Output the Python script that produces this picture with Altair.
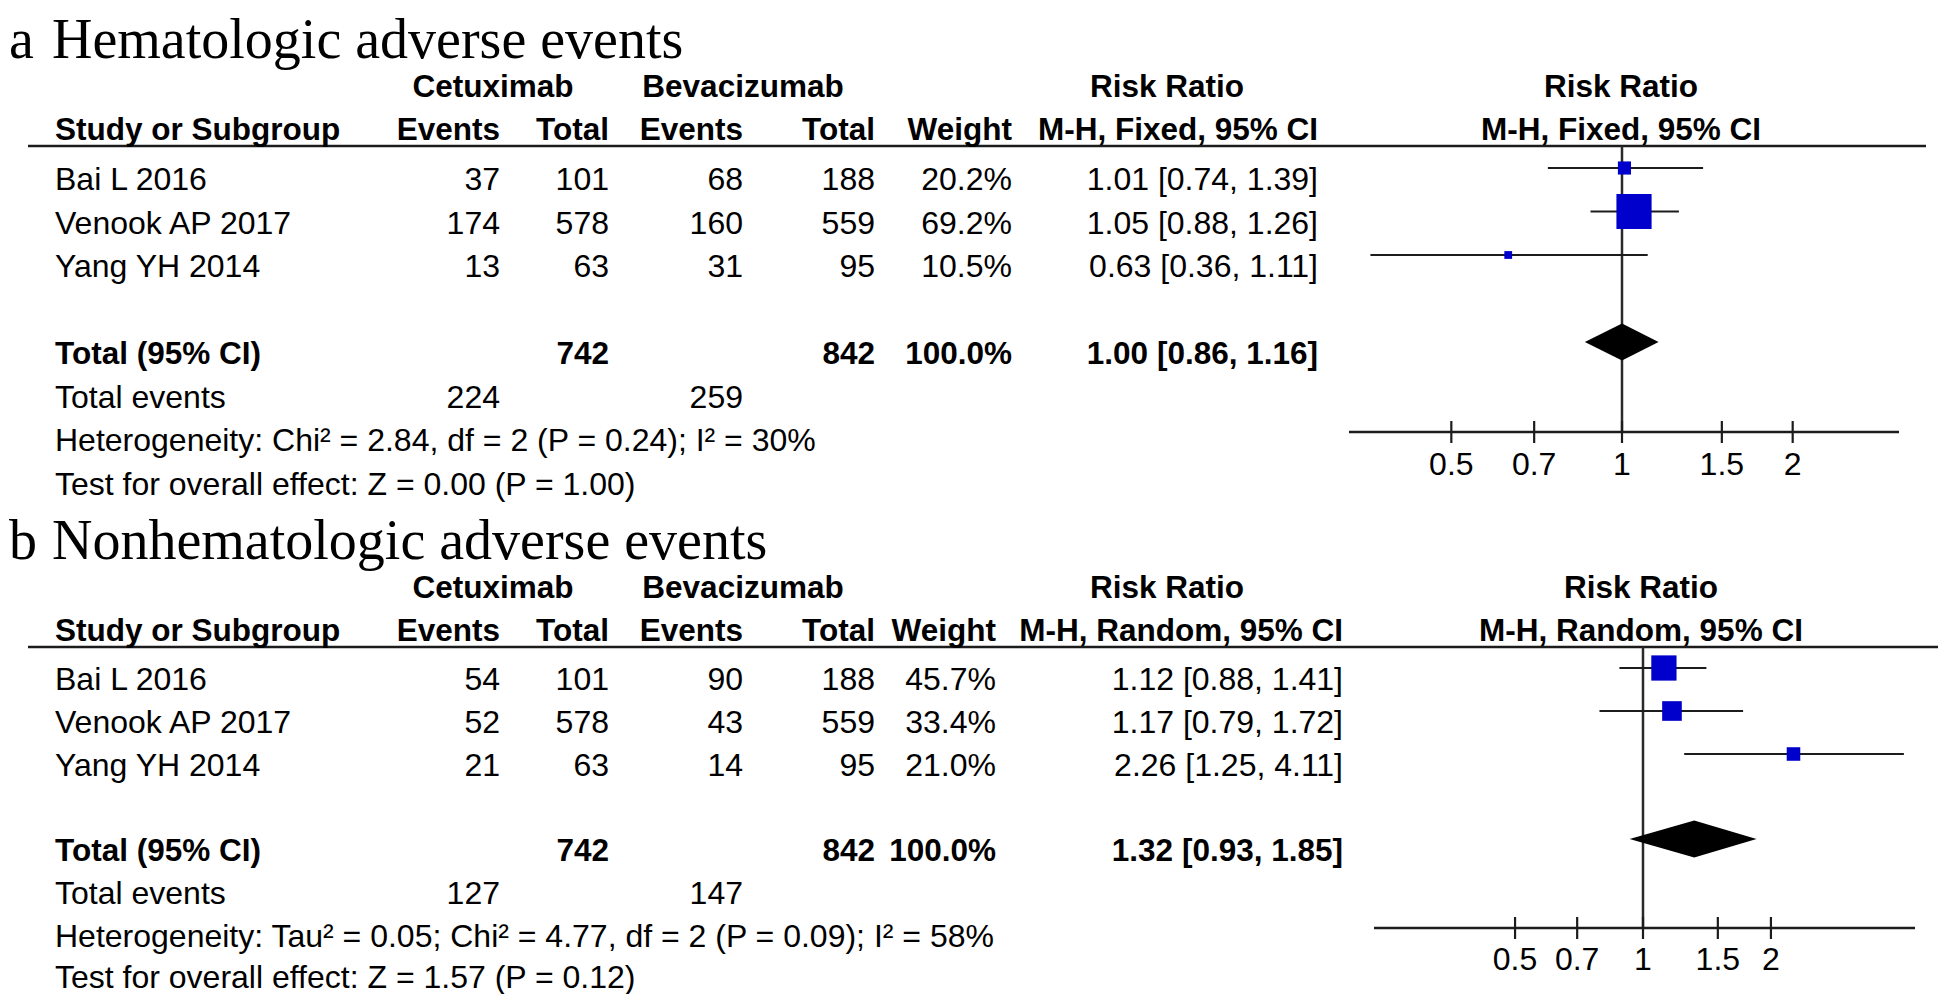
import altair as alt
import pandas as pd

# ---------------- data ----------------
studies = ["Bai L 2016", "Venook AP 2017", "Yang YH 2014"]

a_cet_events = [37, 174, 13]
a_cet_total = [101, 578, 63]
a_bev_events = [68, 160, 31]
a_bev_total = [188, 559, 95]
a_weight = [20.2, 69.2, 10.5]
a_rr = [1.01, 1.05, 0.63]
a_lo = [0.74, 0.88, 0.36]
a_hi = [1.39, 1.26, 1.11]
a_tot = [742, 842, 100.0, 1.00, 0.86, 1.16]       # cet total, bev total, weight, RR, lo, hi
a_tot_events = [224, 259]
a_het = "Heterogeneity: Chi² = 2.84, df = 2 (P = 0.24); I² = 30%"
a_test = "Test for overall effect: Z = 0.00 (P = 1.00)"

b_cet_events = [54, 52, 21]
b_cet_total = [101, 578, 63]
b_bev_events = [90, 43, 14]
b_bev_total = [188, 559, 95]
b_weight = [45.7, 33.4, 21.0]
b_rr = [1.12, 1.17, 2.26]
b_lo = [0.88, 0.79, 1.25]
b_hi = [1.41, 1.72, 4.11]
b_tot = [742, 842, 100.0, 1.32, 0.93, 1.85]
b_tot_events = [127, 147]
b_het = "Heterogeneity: Tau² = 0.05; Chi² = 4.77, df = 2 (P = 0.09); I² = 58%"
b_test = "Test for overall effect: Z = 1.57 (P = 0.12)"

tick_values = [0.5, 0.7, 1, 1.5, 2]
tick_labels = ["0.5", "0.7", "1", "1.5", "2"]

# ---------------- layout (reference pixel frame) ----------------
M = 8
CW, CH = 1930, 986
SANS = "Liberation Sans"
SERIF = "Liberation Serif"
INK = "#000000"
LINE = "#1c1c1c"
BLUE = "#0000CC"

xpix = alt.Scale(domain=[M, M + CW], range=[0, CW], nice=False, zero=False)
ypix = alt.Scale(domain=[M, M + CH], range=[0, CH], nice=False, zero=False)

COL = dict(study=55, cet_ev=500, cet_tot=609, bev_ev=743, bev_tot=875,
           cet_head=493, bev_head=743, rr_head=1167, line_x1=28, letter=9, title=52)
MARK_DY = -22
DIAMOND_HALF = 18.5
TICK_HALF = 11
TITLE_SIZE = 56

panels = [
    dict(letter="a", title="Hematologic adverse events", method="M-H, Fixed, 95% CI",
         y=dict(title=58, h1=97, h2=140, line=146, rows=[190, 233.5, 277],
                total=364, events=407.5, het=451, test=494.5),
         weight_right=1012, ci_right=1318, one=1622, per_dec=567, ax0=1349, ax1=1899,
         axis_y=432, label_y=475, head_x=1621, line_x2=1926,
         ce=a_cet_events, ct=a_cet_total, be=a_bev_events, bt=a_bev_total, w=a_weight,
         rr=a_rr, lo=a_lo, hi=a_hi, tot=a_tot, tev=a_tot_events, het=a_het, test=a_test),
    dict(letter="b", title="Nonhematologic adverse events", method="M-H, Random, 95% CI",
         y=dict(title=559, h1=598, h2=641, line=647, rows=[690, 733, 776],
                total=861, events=904, het=947, test=988),
         weight_right=996, ci_right=1343, one=1643, per_dec=425, ax0=1374, ax1=1915,
         axis_y=928, label_y=970, head_x=1641, line_x2=1946,
         ce=b_cet_events, ct=b_cet_total, be=b_bev_events, bt=b_bev_total, w=b_weight,
         rr=b_rr, lo=b_lo, hi=b_hi, tot=b_tot, tev=b_tot_events, het=b_het, test=b_test),
]


def fmt_ci(r, l, h):
    return f"{r:.2f} [{l:.2f}, {h:.2f}]"


STYLES = {
    "title": dict(font=SERIF, fontSize=TITLE_SIZE, fontWeight="normal", align="left"),
    "bold_left": dict(font=SANS, fontSize=31.5, fontWeight="bold", align="left"),
    "bold_right": dict(font=SANS, fontSize=31.5, fontWeight="bold", align="right"),
    "bold_center": dict(font=SANS, fontSize=31.5, fontWeight="bold", align="center"),
    "left": dict(font=SANS, fontSize=32, fontWeight="normal", align="left"),
    "right": dict(font=SANS, fontSize=32, fontWeight="normal", align="right"),
}

cells = []
rules_pix = []
layers = []

for p in panels:
    Y = p["y"]
    wr = p["weight_right"]

    def add(text, x, y, style):
        cells.append(dict(text=str(text), x=x, y=y, style=style))

    add(p["letter"], COL["letter"], Y["title"], "title")
    add(p["title"], COL["title"], Y["title"], "title")
    add("Cetuximab", COL["cet_head"], Y["h1"], "bold_center")
    add("Bevacizumab", COL["bev_head"], Y["h1"], "bold_center")
    add("Risk Ratio", COL["rr_head"], Y["h1"], "bold_center")
    add("Study or Subgroup", COL["study"], Y["h2"], "bold_left")
    add("Events", COL["cet_ev"], Y["h2"], "bold_right")
    add("Total", COL["cet_tot"], Y["h2"], "bold_right")
    add("Events", COL["bev_ev"], Y["h2"], "bold_right")
    add("Total", COL["bev_tot"], Y["h2"], "bold_right")
    add("Weight", wr, Y["h2"], "bold_right")
    add(p["method"], p["ci_right"], Y["h2"], "bold_right")

    for i, s in enumerate(studies):
        y = Y["rows"][i]
        add(s, COL["study"], y, "left")
        add(p["ce"][i], COL["cet_ev"], y, "right")
        add(p["ct"][i], COL["cet_tot"], y, "right")
        add(p["be"][i], COL["bev_ev"], y, "right")
        add(p["bt"][i], COL["bev_tot"], y, "right")
        add(f"{p['w'][i]:.1f}%", wr, y, "right")
        add(fmt_ci(p["rr"][i], p["lo"][i], p["hi"][i]), p["ci_right"], y, "right")

    t = p["tot"]
    add("Total (95% CI)", COL["study"], Y["total"], "bold_left")
    add(t[0], COL["cet_tot"], Y["total"], "bold_right")
    add(t[1], COL["bev_tot"], Y["total"], "bold_right")
    add(f"{t[2]:.1f}%", wr, Y["total"], "bold_right")
    add(fmt_ci(t[3], t[4], t[5]), p["ci_right"], Y["total"], "bold_right")
    add("Total events", COL["study"], Y["events"], "left")
    add(p["tev"][0], COL["cet_ev"], Y["events"], "right")
    add(p["tev"][1], COL["bev_ev"], Y["events"], "right")
    add(p["het"], COL["study"], Y["het"], "left")
    add(p["test"], COL["study"], Y["test"], "left")

    rules_pix.append(dict(x=COL["line_x1"], x2=p["line_x2"], y=Y["line"]))

    # ----- forest plot with its own log scale -----
    d0 = 10 ** ((p["ax0"] - p["one"]) / p["per_dec"])
    d1 = 10 ** ((p["ax1"] - p["one"]) / p["per_dec"])
    fx = alt.Scale(type="log", domain=[d0, d1], range=[p["ax0"] - M, p["ax1"] - M], nice=False)

    centre_val = 10 ** ((p["head_x"] - p["one"]) / p["per_dec"])
    head_df = pd.DataFrame({"v": [centre_val, centre_val], "y": [Y["h1"], Y["h2"]],
                            "text": ["Risk Ratio", p["method"]]})
    layers.append(
        alt.Chart(head_df).mark_text(align="center", baseline="alphabetic", font=SANS,
                                     fontSize=31.5, fontWeight="bold", color=INK)
        .encode(x=alt.X("v:Q", scale=fx, axis=None), y=alt.Y("y:Q", scale=ypix, axis=None),
                text="text:N")
    )
    vline = pd.DataFrame({"v": [1.0], "y": [Y["line"]], "y2": [p["axis_y"]]})
    layers.append(
        alt.Chart(vline).mark_rule(color="#2a2a2a", strokeWidth=2.5)
        .encode(x=alt.X("v:Q", scale=fx, axis=None), y=alt.Y("y:Q", scale=ypix, axis=None),
                y2="y2:Q")
    )
    study_df = pd.DataFrame({
        "rr": p["rr"], "lo": p["lo"], "hi": p["hi"], "w": p["w"],
        "y": [r + MARK_DY for r in Y["rows"]],
    })
    layers.append(
        alt.Chart(study_df).mark_rule(color=LINE, strokeWidth=2.2)
        .encode(x=alt.X("lo:Q", scale=fx, axis=None), x2="hi:Q",
                y=alt.Y("y:Q", scale=ypix, axis=None))
    )
    layers.append(
        alt.Chart(study_df).mark_square(color=BLUE, opacity=1)
        .encode(x=alt.X("rr:Q", scale=fx, axis=None), y=alt.Y("y:Q", scale=ypix, axis=None),
                size=alt.Size("w:Q", scale=alt.Scale(type="pow", exponent=1.6,
                                                      domain=[0, 100], range=[0, 2230]),
                              legend=None))
    )
    yc = Y["total"] + MARK_DY
    dia = pd.DataFrame({"x": [t[4], t[3], t[5]],
                        "y": [yc, yc - DIAMOND_HALF, yc],
                        "y2": [yc, yc + DIAMOND_HALF, yc]})
    layers.append(
        alt.Chart(dia).mark_area(color="#000000", orient="vertical", opacity=1)
        .encode(x=alt.X("x:Q", scale=fx, axis=None), y=alt.Y("y:Q", scale=ypix, axis=None),
                y2="y2:Q")
    )
    axis_df = pd.DataFrame({"lo": [d0], "hi": [d1], "y": [p["axis_y"]]})
    layers.append(
        alt.Chart(axis_df).mark_rule(color=LINE, strokeWidth=2.5)
        .encode(x=alt.X("lo:Q", scale=fx, axis=None), x2="hi:Q",
                y=alt.Y("y:Q", scale=ypix, axis=None))
    )
    tick_df = pd.DataFrame({"v": tick_values, "label": tick_labels,
                            "y": [p["axis_y"] - TICK_HALF] * len(tick_values),
                            "y2": [p["axis_y"] + TICK_HALF] * len(tick_values),
                            "ly": [p["label_y"]] * len(tick_values)})
    layers.append(
        alt.Chart(tick_df).mark_rule(color=LINE, strokeWidth=2.2)
        .encode(x=alt.X("v:Q", scale=fx, axis=None), y=alt.Y("y:Q", scale=ypix, axis=None),
                y2="y2:Q")
    )
    layers.append(
        alt.Chart(tick_df).mark_text(align="center", baseline="alphabetic", font=SANS,
                                     fontSize=32, color=INK)
        .encode(x=alt.X("v:Q", scale=fx, axis=None), y=alt.Y("ly:Q", scale=ypix, axis=None),
                text="label:N")
    )

# header rules (table frame)
rules_df = pd.DataFrame(rules_pix)
table_layers = [
    alt.Chart(rules_df).mark_rule(color=LINE, strokeWidth=2.6)
    .encode(x=alt.X("x:Q", scale=xpix, axis=None), x2="x2:Q",
            y=alt.Y("y:Q", scale=ypix, axis=None))
]

cells_df = pd.DataFrame(cells)
for name, st in STYLES.items():
    sub = cells_df[cells_df["style"] == name]
    if sub.empty:
        continue
    table_layers.append(
        alt.Chart(sub).mark_text(baseline="alphabetic", color=INK, **st)
        .encode(x=alt.X("x:Q", scale=xpix, axis=None), y=alt.Y("y:Q", scale=ypix, axis=None),
                text="text:N")
    )

chart = (
    alt.layer(*table_layers, *layers)
    .resolve_scale(x="independent")
    .properties(width=CW, height=CH, autosize=alt.AutoSizeParams(type="none"), padding=0,
                background="white")
    .configure_view(strokeWidth=0)
)

chart.save("out.html", embed_options={"renderer": "svg", "actions": False})
